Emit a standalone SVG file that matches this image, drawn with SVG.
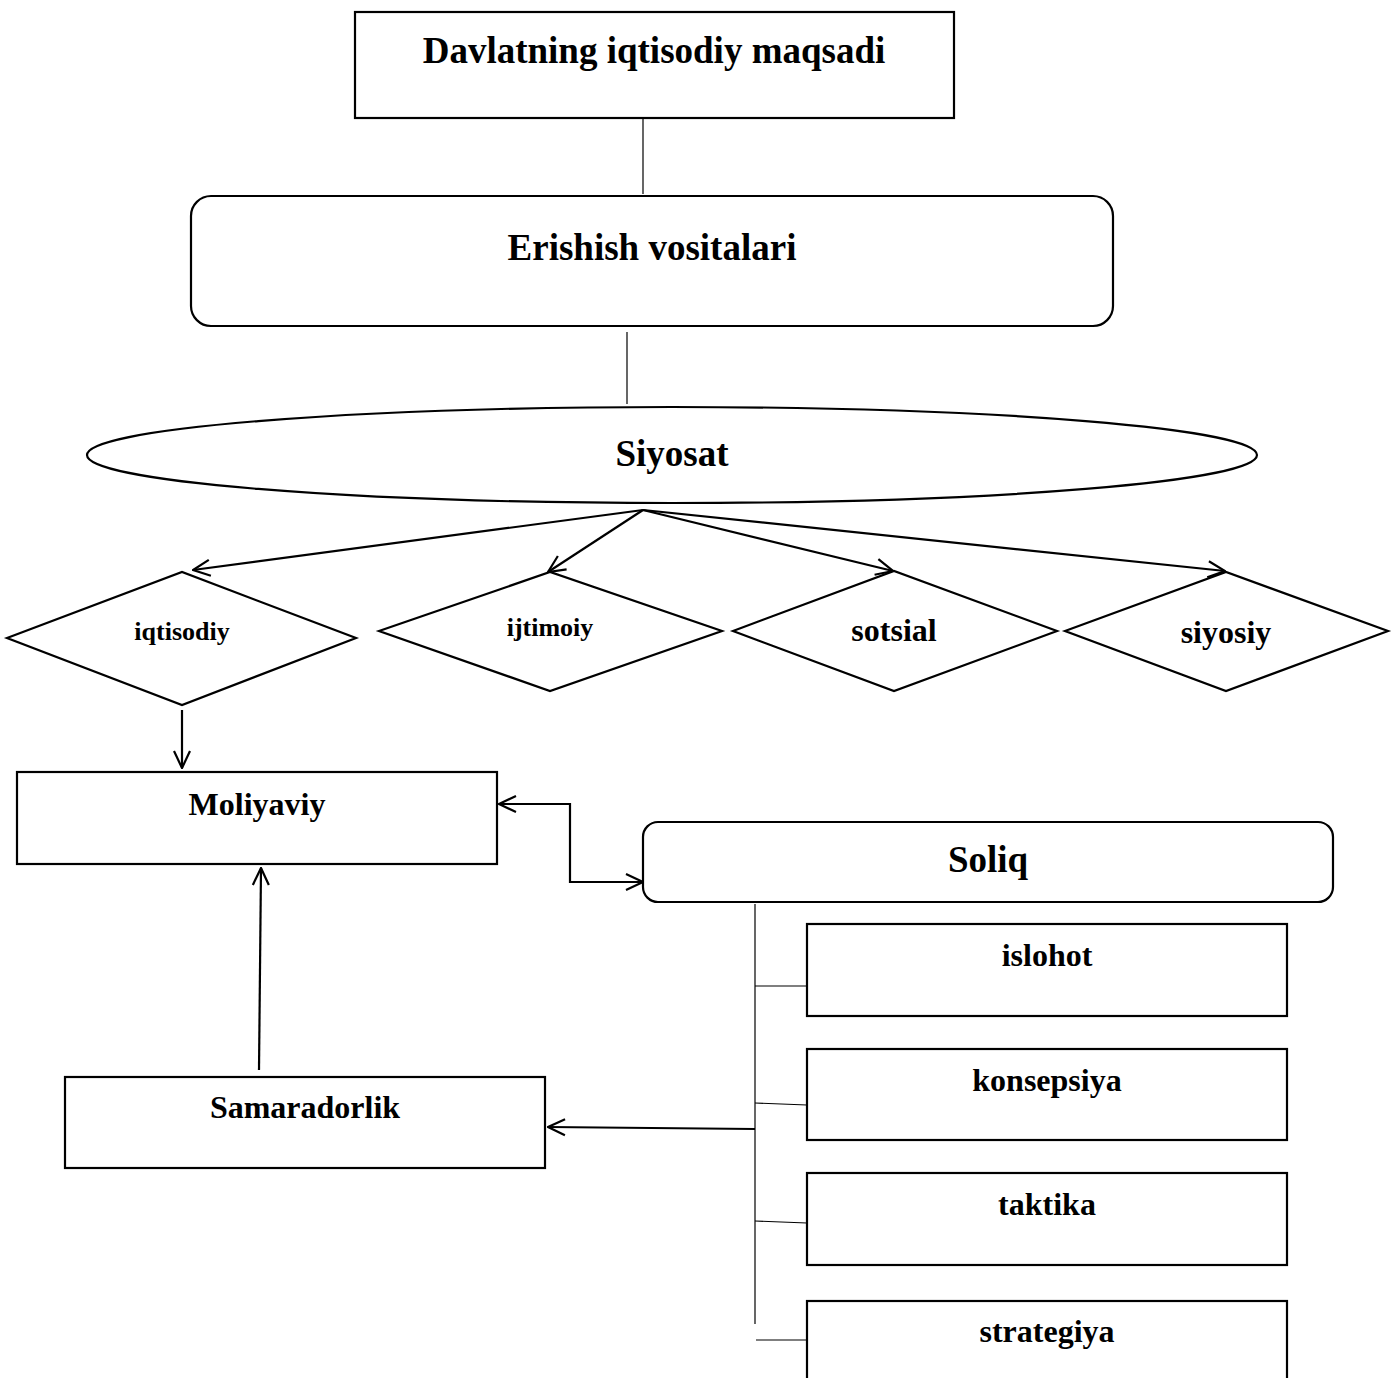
<svg xmlns="http://www.w3.org/2000/svg" width="1392" height="1378" viewBox="0 0 1392 1378">
<style>
.s{fill:#fff;stroke:#000;stroke-width:2.2}
.t{font-family:"Liberation Serif","Times New Roman",serif;font-weight:bold;fill:#000;text-anchor:middle}
.thin{stroke:#000;stroke-width:1.2;fill:none}
.ar{stroke:#000;stroke-width:2.2;fill:none}
</style>
<defs>
<marker id="a" viewBox="0 0 20 20" refX="19" refY="10" markerWidth="20" markerHeight="20" markerUnits="userSpaceOnUse" orient="auto-start-reverse">
<path d="M2,2 L19,10 L2,18" fill="none" stroke="#000" stroke-width="2.2"/>
</marker>
</defs>
<rect width="1392" height="1378" fill="#fff"/>
<g id="connectors">
<line class="thin" x1="643" y1="119" x2="643" y2="194"/>
<line class="thin" x1="627" y1="332" x2="627" y2="404"/>
<line class="ar" x1="643" y1="510" x2="193" y2="570" marker-end="url(#a)"/>
<line class="ar" x1="643" y1="510" x2="548" y2="572" marker-end="url(#a)"/>
<line class="ar" x1="643" y1="510" x2="893" y2="571" marker-end="url(#a)"/>
<line class="ar" x1="643" y1="510" x2="1225" y2="571" marker-end="url(#a)"/>
<line class="ar" x1="182" y1="710" x2="182" y2="768" marker-end="url(#a)"/>
<polyline class="ar" points="499,804 570,804 570,882 643,882" marker-start="url(#a)" marker-end="url(#a)"/>
<line class="ar" x1="259" y1="1070" x2="261" y2="868" marker-end="url(#a)"/>
<line class="thin" x1="755" y1="904" x2="755" y2="1324"/>
<line class="thin" x1="755" y1="986" x2="807" y2="986"/>
<line class="thin" x1="755" y1="1103" x2="807" y2="1105"/>
<line class="thin" x1="755" y1="1221" x2="807" y2="1223"/>
<line class="thin" x1="756" y1="1340" x2="807" y2="1340"/>
<line class="ar" x1="755" y1="1129" x2="548" y2="1127" marker-end="url(#a)"/>
</g>
<g id="n1"><rect class="s" x="355" y="12" width="599" height="106"/><text class="t" x="654" y="63" font-size="37">Davlatning iqtisodiy maqsadi</text></g>
<g id="n2"><rect class="s" x="191" y="196" width="922" height="130" rx="20"/><text class="t" x="652" y="260" font-size="37">Erishish vositalari</text></g>
<g id="n3"><ellipse class="s" cx="672" cy="455" rx="585" ry="48"/><text class="t" x="672" y="466" font-size="37">Siyosat</text></g>
<g id="n4"><polygon class="s" points="7,638 182,572 356,638 182,705"/><text class="t" x="182" y="640" font-size="26">iqtisodiy</text></g>
<g id="n5"><polygon class="s" points="379,631 550,572 722,631 550,691"/><text class="t" x="550" y="636" font-size="26">ijtimoiy</text></g>
<g id="n6"><polygon class="s" points="733,631 894,571 1057,631 894,691"/><text class="t" x="894" y="641" font-size="32">sotsial</text></g>
<g id="n7"><polygon class="s" points="1065,631 1226,572 1388,631 1226,691"/><text class="t" x="1226" y="643" font-size="32">siyosiy</text></g>
<g id="n8"><rect class="s" x="17" y="772" width="480" height="92"/><text class="t" x="257" y="815" font-size="32">Moliyaviy</text></g>
<g id="n9"><rect class="s" x="643" y="822" width="690" height="80" rx="15"/><text class="t" x="988" y="872" font-size="37">Soliq</text></g>
<g id="n10"><rect class="s" x="65" y="1077" width="480" height="91"/><text class="t" x="305" y="1118" font-size="32">Samaradorlik</text></g>
<g id="n11"><rect class="s" x="807" y="924" width="480" height="92"/><text class="t" x="1047" y="966" font-size="32">islohot</text></g>
<g id="n12"><rect class="s" x="807" y="1049" width="480" height="91"/><text class="t" x="1047" y="1091" font-size="32">konsepsiya</text></g>
<g id="n13"><rect class="s" x="807" y="1173" width="480" height="92"/><text class="t" x="1047" y="1215" font-size="32">taktika</text></g>
<g id="n14"><rect class="s" x="807" y="1301" width="480" height="92"/><text class="t" x="1047" y="1342" font-size="32">strategiya</text></g>
</svg>
